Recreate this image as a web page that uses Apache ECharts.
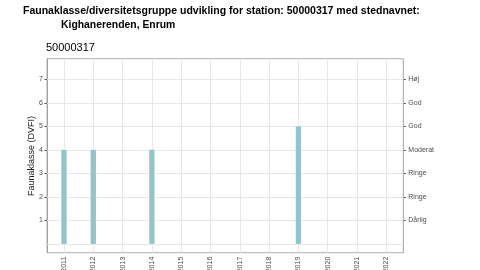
<!DOCTYPE html>
<html><head><meta charset="utf-8">
<script src="https://cdn.jsdelivr.net/npm/echarts@6/dist/echarts.min.js"></script>
<style>html,body{margin:0;padding:0;background:#fff}#c{width:480px;height:270px}</style>
</head><body><div id="c"></div>
<script>
const years = [2011, 2012, 2014, 2019];
const faunaValues = [4, 4, 4, 5];
const xTickYears = [2011, 2012, 2013, 2014, 2015, 2016, 2017, 2018, 2019, 2020, 2021, 2022];
const yTicks = [1, 2, 3, 4, 5, 6, 7];
const yGrid = [0, 1, 2, 3, 4, 5, 6, 7];
const rightLabels = {1: 'Dårlig', 2: 'Ringe', 3: 'Ringe', 4: 'Moderat', 5: 'God', 6: 'God', 7: 'Høj'};
const titleLine1 = 'Faunaklasse/diversitetsgruppe udvikling for station: 50000317 med stednavnet:';
const titleLine2 = 'Kighanerenden, Enrum';
const subtitle = '50000317';

const chart = echarts.init(document.getElementById('c'), null, {renderer: 'canvas'});
const labelColor = '#4d4d4d';
const gridColor = '#e8e8e8';
const gridLines = xTickYears.map(v => ({xAxis: v})).concat(yGrid.map(v => ({yAxis: v})));
chart.setOption({
  animation: false,
  graphic: [
    {type: 'text', left: 23, top: 6, style: {text: titleLine1, font: 'bold 10.5px "Liberation Sans"', fill: '#000'}},
    {type: 'text', left: 61, top: 20, style: {text: titleLine2, font: 'bold 10.4px "Liberation Sans"', fill: '#000'}},
    {type: 'text', left: 46, top: 42, style: {text: subtitle, font: '11px "Liberation Sans"', fill: '#000'}},
    {type: 'text', x: 31.5, y: 156, rotation: Math.PI / 2, style: {text: 'Faunaklasse (DVFI)', font: '9px "Liberation Sans"', fill: '#1a1a1a', align: 'center', verticalAlign: 'middle'}}
  ],
  grid: {left: 47, right: 76.7, top: 58.7, bottom: 17.3, show: true, borderColor: '#b0b0b0', borderWidth: 1, containLabel: false, outerBoundsMode: 'none'},
  xAxis: {
    type: 'value', min: 2010.42, max: 2022.58,
    axisLine: {show: true, lineStyle: {color: '#a0a0a0', width: 1}},
    axisTick: {show: true, length: 2.5, lineStyle: {color: '#555'}, customValues: xTickYears},
    axisLabel: {rotate: 90, fontSize: 7, color: labelColor, fontFamily: 'Liberation Sans', margin: 4, customValues: xTickYears,
      formatter: v => String(v)},
    splitLine: {show: false}
  },
  yAxis: [
    {
      type: 'value', min: -0.375, max: 7.875,
      axisLine: {show: true, lineStyle: {color: '#a0a0a0', width: 1}},
      axisTick: {show: true, length: 2.5, lineStyle: {color: '#555'}, customValues: yTicks},
      axisLabel: {fontSize: 7, color: labelColor, fontFamily: 'Liberation Sans', margin: 4, customValues: yTicks,
        formatter: v => String(v)},
      splitLine: {show: false}
    },
    {
      type: 'value', position: 'right', min: -0.375, max: 7.875,
      axisLine: {show: true, lineStyle: {color: '#b0b0b0', width: 1}},
      axisTick: {show: true, length: 2.5, lineStyle: {color: '#555'}, customValues: yTicks},
      axisLabel: {fontSize: 7, color: labelColor, fontFamily: 'Liberation Sans', margin: 5, customValues: yTicks,
        formatter: v => rightLabels[v] || ''},
      splitLine: {show: false}
    }
  ],
  series: [
    {
      type: 'line', data: [], z: 1, silent: true,
      markLine: {
        silent: true, symbol: 'none', label: {show: false}, animation: false, z: 1,
        lineStyle: {color: gridColor, width: 1, type: 'solid'},
        data: gridLines
      }
    },
    {
      type: 'bar', yAxisIndex: 0, barWidth: 5.3, z: 3,
      data: years.map((y, i) => [y, faunaValues[i]]),
      itemStyle: {color: '#93c4ca'}
    }
  ]
});
</script></body></html>
